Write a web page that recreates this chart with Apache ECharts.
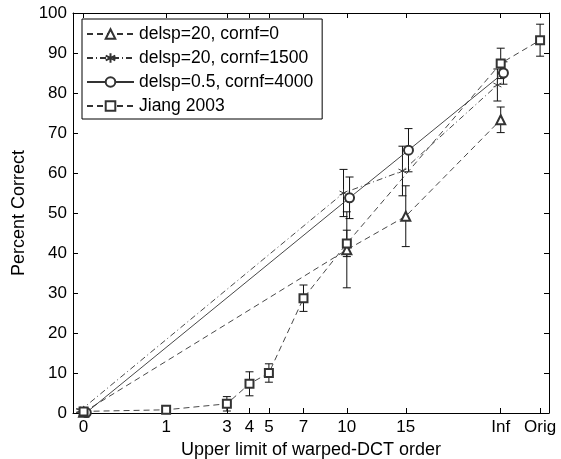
<!DOCTYPE html>
<html>
<head>
<meta charset="utf-8">
<script src="https://cdn.jsdelivr.net/npm/echarts@6/dist/echarts.min.js"></script>
<style>
  html, body { margin: 0; padding: 0; background: #fff; }
  #chart { width: 561px; height: 459px; }
</style>
</head>
<body>
<div id="chart"></div>
<script>
// x axis is stretched (roughly sqrt-like), so tick labels get their own positions
const orderLabels = ["0", "1", "3", "4", "5", "7", "10", "15", "Inf", "Orig"];
const orderPos = [0, 1, 1.736, 2.01, 2.245, 2.664, 3.189, 3.903, 5.053, 5.53];

// delsp=20, cornf=0
const triOrders = ["0", "10", "15", "Inf"];
const triMeans = [0.2, 40.8, 49.2, 73.3];
const triErr = [0.4, 9.5, 7.6, 3.2];

// delsp=20, cornf=1500
const astOrders = ["0", "10", "15", "Inf"];
const astMeans = [0.6, 55.0, 60.5, 82.0];
const astErr = [0.4, 5.9, 6.2, 4.0];

// delsp=0.5, cornf=4000
const cirOrders = ["0", "10", "15", "Inf"];
const cirMeans = [0.1, 53.8, 65.7, 85.0];
const cirErr = [0.4, 5.2, 5.4, 2.8];

// Jiang 2003
const jiaOrders = ["0", "1", "3", "4", "5", "7", "10", "Inf", "Orig"];
const jiaMeans = [0.4, 0.8, 2.3, 7.3, 10.0, 28.7, 42.4, 87.4, 93.2];
const jiaErr = [0.4, 0.5, 1.8, 3.0, 2.3, 3.3, 3.3, 3.8, 4.0];

const yTicks = [0, 10, 20, 30, 40, 50, 60, 70, 80, 90, 100];

const ink = "#000";
const lineInk = "#333";
const FONT = "Liberation Sans, Arial, Helvetica, sans-serif";

function posOf(label) {
  return orderPos[orderLabels.indexOf(label)];
}
function points(orders, means, shift) {
  return orders.map((o, i) => [posOf(o) + shift, means[i]]);
}
function bars(orders, means, errs, shift) {
  return orders.map((o, i) => [posOf(o) + shift, means[i] - errs[i], means[i] + errs[i]]);
}

function renderErr(params, api) {
  const x = api.value(0);
  const lo = api.coord([x, api.value(1)]);
  const hi = api.coord([x, api.value(2)]);
  const w = 4;
  const st = { stroke: "#111", lineWidth: 1 };
  return {
    type: "group",
    children: [
      { type: "line", shape: { x1: hi[0], y1: hi[1], x2: lo[0], y2: lo[1] }, style: st },
      { type: "line", shape: { x1: hi[0] - w, y1: hi[1], x2: hi[0] + w, y2: hi[1] }, style: st },
      { type: "line", shape: { x1: lo[0] - w, y1: lo[1], x2: lo[0] + w, y2: lo[1] }, style: st },
    ],
  };
}

const asterisk = "path://M5,0L5,10M0.7,2.5L9.3,7.5M0.7,7.5L9.3,2.5";

function lineSeries(name, data, symbol, size, dash) {
  return {
    name: name,
    type: "line",
    data: data,
    symbol: symbol,
    symbolSize: size,
    z: 3,
    lineStyle: { color: lineInk, width: 0.9, type: dash },
    itemStyle: { color: lineInk, borderColor: lineInk, borderWidth: 0.9 },
    emphasis: { disabled: true },
    animation: false,
  };
}
function errSeries(data) {
  return {
    type: "custom",
    renderItem: renderErr,
    data: data,
    encode: { x: 0, y: [1, 2] },
    z: 2,
    silent: true,
    animation: false,
  };
}

const sTri = "delsp=20, cornf=0";
const sAst = "delsp=20, cornf=1500";
const sCir = "delsp=0.5, cornf=4000";
const sJia = "Jiang 2003";

const chart = echarts.init(document.getElementById("chart"));
const xMin = -0.128, xMax = 5.638;
const tickCommon = { show: true, inside: true, length: 5, lineStyle: { color: ink } };

chart.setOption({
  animation: false,
  backgroundColor: "#fff",
  textStyle: { fontFamily: FONT },
  grid: { left: 73, right: 12, top: 13, bottom: 46, outerBoundsMode: "none" },
  legend: {
    data: [sTri, sAst, sCir, sJia],
    orient: "vertical",
    left: 82,
    top: 19,
    padding: [6, 9, 4, 4],
    itemWidth: 47,
    itemHeight: 12,
    itemGap: 6,
    backgroundColor: "#fff",
    borderColor: ink,
    borderWidth: 1,
    borderRadius: 0,
    selectedMode: false,
    textStyle: { fontSize: 17.5, lineHeight: 16, color: ink, fontFamily: FONT },
  },
  xAxis: [
    {
      type: "value",
      min: xMin,
      max: xMax,
      name: "Upper limit of warped-DCT order",
      nameLocation: "middle",
      nameGap: 24,
      nameTextStyle: { fontSize: 18, color: ink },
      axisLine: { show: true, onZero: false, lineStyle: { color: ink } },
      axisTick: Object.assign({ customValues: orderPos }, tickCommon),
      axisLabel: {
        customValues: orderPos,
        formatter: (v) => orderLabels[orderPos.indexOf(v)],
        fontSize: 17,
        color: ink,
        margin: 6,
      },
      splitLine: { show: false },
    },
    {
      type: "value",
      position: "top",
      min: xMin,
      max: xMax,
      axisLine: { show: true, onZero: false, lineStyle: { color: ink } },
      axisTick: Object.assign({ customValues: orderPos }, tickCommon),
      axisLabel: { show: false },
      splitLine: { show: false },
    },
  ],
  yAxis: [
    {
      type: "value",
      min: 0,
      max: 100,
      interval: 10,
      name: "Percent Correct",
      nameLocation: "middle",
      nameGap: 42,
      nameTextStyle: { fontSize: 18, color: ink },
      axisLine: { show: true, onZero: false, lineStyle: { color: ink } },
      axisTick: Object.assign({ customValues: yTicks }, tickCommon),
      axisLabel: { customValues: yTicks, fontSize: 17, color: ink, margin: 6 },
      splitLine: { show: false },
    },
    {
      type: "value",
      position: "right",
      min: 0,
      max: 100,
      interval: 10,
      axisLine: { show: true, onZero: false, lineStyle: { color: ink } },
      axisTick: Object.assign({ customValues: yTicks }, tickCommon),
      axisLabel: { show: false },
      splitLine: { show: false },
    },
  ],
  series: [
    errSeries(bars(triOrders, triMeans, triErr, 0)),
    errSeries(bars(astOrders, astMeans, astErr, -0.04)),
    errSeries(bars(cirOrders, cirMeans, cirErr, 0.033)),
    errSeries(bars(jiaOrders, jiaMeans, jiaErr, 0)),
    lineSeries(sTri, points(triOrders, triMeans, 0), "emptyTriangle", 9, [6, 4]),
    lineSeries(sAst, points(astOrders, astMeans, -0.04), asterisk, 8, [6, 3, 1, 3]),
    lineSeries(sCir, points(cirOrders, cirMeans, 0.033), "emptyCircle", 9, "solid"),
    lineSeries(sJia, points(jiaOrders, jiaMeans, 0), "emptyRect", 8, [6, 4]),
  ],
});
</script>
</body>
</html>
